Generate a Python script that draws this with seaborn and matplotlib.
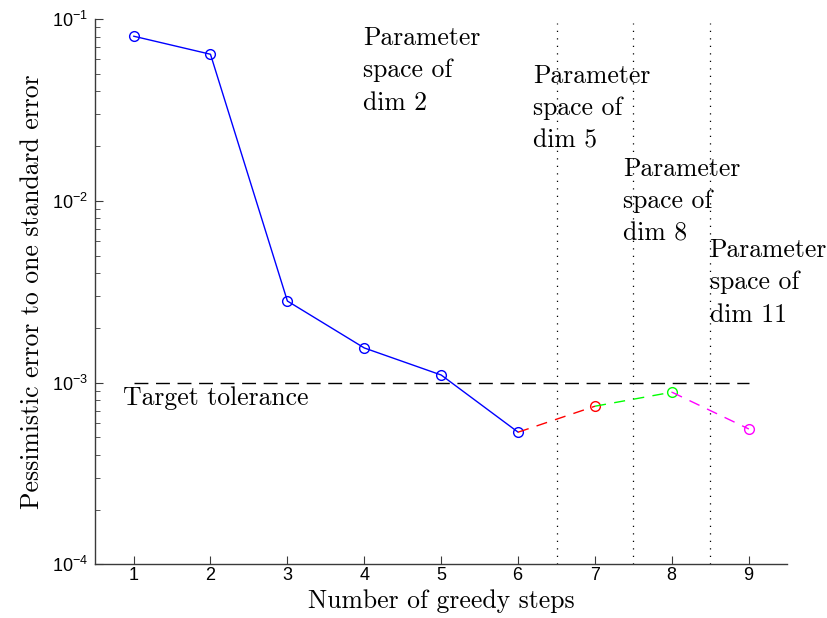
import matplotlib
matplotlib.use("Agg")
import matplotlib.pyplot as plt
import seaborn as sns
import numpy as np
import pandas as pd
from matplotlib.ticker import LogLocator, FixedLocator

# ---- data ----
steps = [1, 2, 3, 4, 5, 6, 7, 8, 9]
errors = [0.0806, 0.0641, 0.00281, 0.00155, 0.00110, 0.000533, 0.000741, 0.000885, 0.000555]
dims = ["dim 2", "dim 5", "dim 8", "dim 11"]
segment_colors = ["blue", "red", "#00ff00", "magenta"]
tolerance = 1e-3
boundaries = [6.5, 7.5, 8.5]
label_pos_x = [3.98, 6.2, 7.36, 8.49]
label_pos_y = [0.091, 0.0565, 0.0173, 0.0062]

sns.set_style("ticks")
plt.rcParams["font.family"] = ["Liberation Sans", "DejaVu Sans"]
plt.rcParams["axes.formatter.use_mathtext"] = True
plt.rcParams["mathtext.fontset"] = "custom"
plt.rcParams["mathtext.rm"] = "Liberation Sans"
plt.rcParams["text.color"] = "black"
plt.rcParams["axes.labelcolor"] = "black"

fig = plt.figure(figsize=(8.27, 6.18), dpi=100)
ax = fig.add_axes([0.115, 0.087, 0.837, 0.882])

serif = "cmr10"

# tolerance line
sns.lineplot(x=[steps[0], steps[-1]], y=[tolerance, tolerance], ax=ax, color="black",
             linestyle=(0, (10, 5.5)), linewidth=1.0, estimator=None, sort=False)

# boundaries
for b in boundaries:
    sns.lineplot(x=[b, b], y=[1e-4, 0.095], ax=ax, color="black", linestyle=(0, (1, 5)),
                 linewidth=0.9, estimator=None, sort=False)

# blue solid segment (steps 1-6)
df_blue = pd.DataFrame({"x": steps[:6], "y": errors[:6]})
sns.lineplot(data=df_blue, x="x", y="y", ax=ax, color="blue", linewidth=1.0,
             marker="o", markersize=7, markerfacecolor="none", markeredgecolor="blue",
             markeredgewidth=1.0)

# dashed segments
for i, c in enumerate(segment_colors[1:]):
    xs = steps[5 + i:7 + i]
    ys = errors[5 + i:7 + i]
    sns.lineplot(x=xs, y=ys, ax=ax, color=c, linewidth=1.0, linestyle=(0, (8, 6)),
                 marker="o", markersize=7, markerfacecolor="none", markeredgecolor=c,
                 markeredgewidth=1.0, markevery=[1])

ax.set_yscale("log")
ax.set_xlim(0.5, 9.5)
ax.set_ylim(1e-4, 1e-1)
ax.xaxis.set_major_locator(FixedLocator(steps))
ax.yaxis.set_major_locator(LogLocator(base=10, numticks=10))
ax.yaxis.set_minor_locator(LogLocator(base=10, subs=np.arange(2, 10), numticks=20))

for sp in ["top", "right"]:
    ax.spines[sp].set_visible(False)
for sp in ["left", "bottom"]:
    ax.spines[sp].set_color("#3a3a3a")
    ax.spines[sp].set_linewidth(1.0)

ax.tick_params(axis="both", which="major", direction="in", length=6, width=0.8,
               color="#3a3a3a", labelsize=13, labelcolor="black")
ax.tick_params(axis="y", which="minor", direction="in", length=3.5, width=0.6, color="#3a3a3a")
ax.tick_params(axis="x", which="major", pad=2)
ax.tick_params(axis="y", which="major", pad=5)

ax.set_xlabel("Number of greedy steps", fontsize=18.5, family=serif, labelpad=4)
ax.set_ylabel("Pessimistic error to one standard error", fontsize=18.5, family=serif, labelpad=6)

ax.text(0.86, 0.00082, "Target tolerance", fontsize=18.5, family=serif, va="center", ha="left")

for d, x, y in zip(dims, label_pos_x, label_pos_y):
    ax.text(x, y, "Parameter\nspace of\n" + d, fontsize=18.5, family=serif, va="top",
            ha="left", linespacing=1.45)

ax.grid(False)
fig.savefig("out.png", dpi=100)
